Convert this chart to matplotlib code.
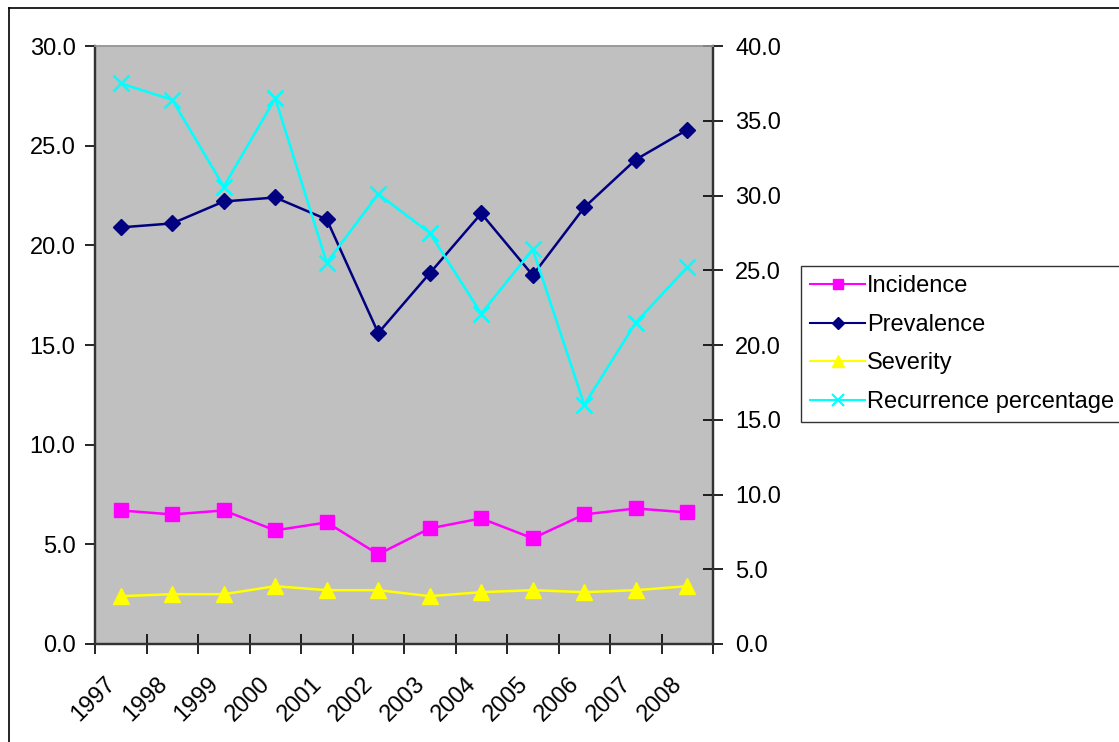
import matplotlib
matplotlib.use("Agg")
import matplotlib.pyplot as plt
from matplotlib.lines import Line2D
from matplotlib.transforms import ScaledTranslation

plt.rcParams["font.family"] = ["Liberation Sans", "DejaVu Sans"]

years = ["1997", "1998", "1999", "2000", "2001", "2002",
         "2003", "2004", "2005", "2006", "2007", "2008"]
incidence = [6.7, 6.5, 6.7, 5.7, 6.1, 4.5, 5.8, 6.3, 5.3, 6.5, 6.8, 6.6]
prevalence = [20.9, 21.1, 22.2, 22.4, 21.3, 15.6, 18.6, 21.6, 18.5, 21.9, 24.3, 25.8]
severity = [2.4, 2.5, 2.5, 2.9, 2.7, 2.7, 2.4, 2.6, 2.7, 2.6, 2.7, 2.9]
recurrence = [37.5, 36.4, 30.6, 36.5, 25.5, 30.1, 27.5, 22.1, 26.4, 16.0, 21.5, 25.2]

W, H = 1119, 742
fig = plt.figure(figsize=(W / 100, H / 100), dpi=100)
ax = fig.add_axes([95 / W, 1 - 644 / H, 618 / W, 598 / H])
ax.set_facecolor("#c0c0c0")
ax2 = ax.twinx()

x = list(range(len(years)))
ax.plot(x, incidence, color="#ff00ff", marker="s", ms=9.5, lw=1.8, label="Incidence")
ax.plot(x, prevalence, color="#000080", marker="D", ms=8.5, lw=1.8, label="Prevalence")
ax.plot(x, severity, color="#ffff00", marker="^", ms=11, lw=1.8, label="Severity")
ax2.plot(x, recurrence, color="#00ffff", marker="x", ms=11, mew=1.8, lw=1.8,
         label="Recurrence percentage")

ax.set_xlim(-0.5, len(years) - 0.5)
ax.set_ylim(0, 30)
ax2.set_ylim(0, 40)
ax.set_yticks([0, 5, 10, 15, 20, 25, 30])
ax.set_yticklabels([f"{v:.1f}" for v in [0, 5, 10, 15, 20, 25, 30]])
ax2.set_yticks([0, 5, 10, 15, 20, 25, 30, 35, 40])
ax2.set_yticklabels([f"{v:.1f}" for v in [0, 5, 10, 15, 20, 25, 30, 35, 40]])

# category labels centred between the boundary ticks
ax.set_xticks([i - 0.5 for i in range(len(years) + 1)])
ax.set_xticklabels([])
lab_tr = ax.get_xaxis_transform() + ScaledTranslation(-16 / 100, -29 / 100, fig.dpi_scale_trans)
for i, yr in enumerate(years):
    ax.text(i, 0, yr, transform=lab_tr, rotation=45, ha="right", va="top",
            rotation_mode="anchor", fontsize=17)
ax.tick_params(axis="x", which="major", direction="inout", length=14, width=1.2)
ax.tick_params(axis="y", direction="out", length=7, width=1.2, labelsize=17, pad=7)
ax2.tick_params(axis="y", direction="inout", length=14, width=1.2, labelsize=17, pad=9)

for a in (ax, ax2):
    for s in ("left", "bottom", "right"):
        a.spines[s].set_color("#333333")
        a.spines[s].set_linewidth(1.6)
    a.spines["top"].set_color("#999999")
    a.spines["top"].set_linewidth(1.2)

handles = [
    Line2D([], [], color="#ff00ff", marker="s", ms=7, lw=1.5),
    Line2D([], [], color="#000080", marker="D", ms=6, lw=1.5),
    Line2D([], [], color="#ffff00", marker="^", ms=8, lw=1.5),
    Line2D([], [], color="#00ffff", marker="x", ms=8, mew=1.5, lw=1.5),
]
labels = ["Incidence", "Prevalence", "Severity", "Recurrence percentage"]
leg = fig.legend(handles, labels, loc="upper left", bbox_to_anchor=(801 / W, 1 - 266 / H),
                 fontsize=17, frameon=True, fancybox=False, handlelength=2.3,
                 handletextpad=0.1, borderpad=0.4, labelspacing=0.7, borderaxespad=0)
leg.get_frame().set_edgecolor("black")
leg.get_frame().set_linewidth(1.0)

# chart-area border (left and top edges visible)
fig.add_artist(Line2D([8.5 / W, 8.5 / W], [0, 1 - 7.5 / H], transform=fig.transFigure,
                      color="black", lw=1.2))
fig.add_artist(Line2D([8.5 / W, 1], [1 - 7.5 / H, 1 - 7.5 / H], transform=fig.transFigure,
                      color="black", lw=1.2))

fig.savefig("out.png", dpi=100)
